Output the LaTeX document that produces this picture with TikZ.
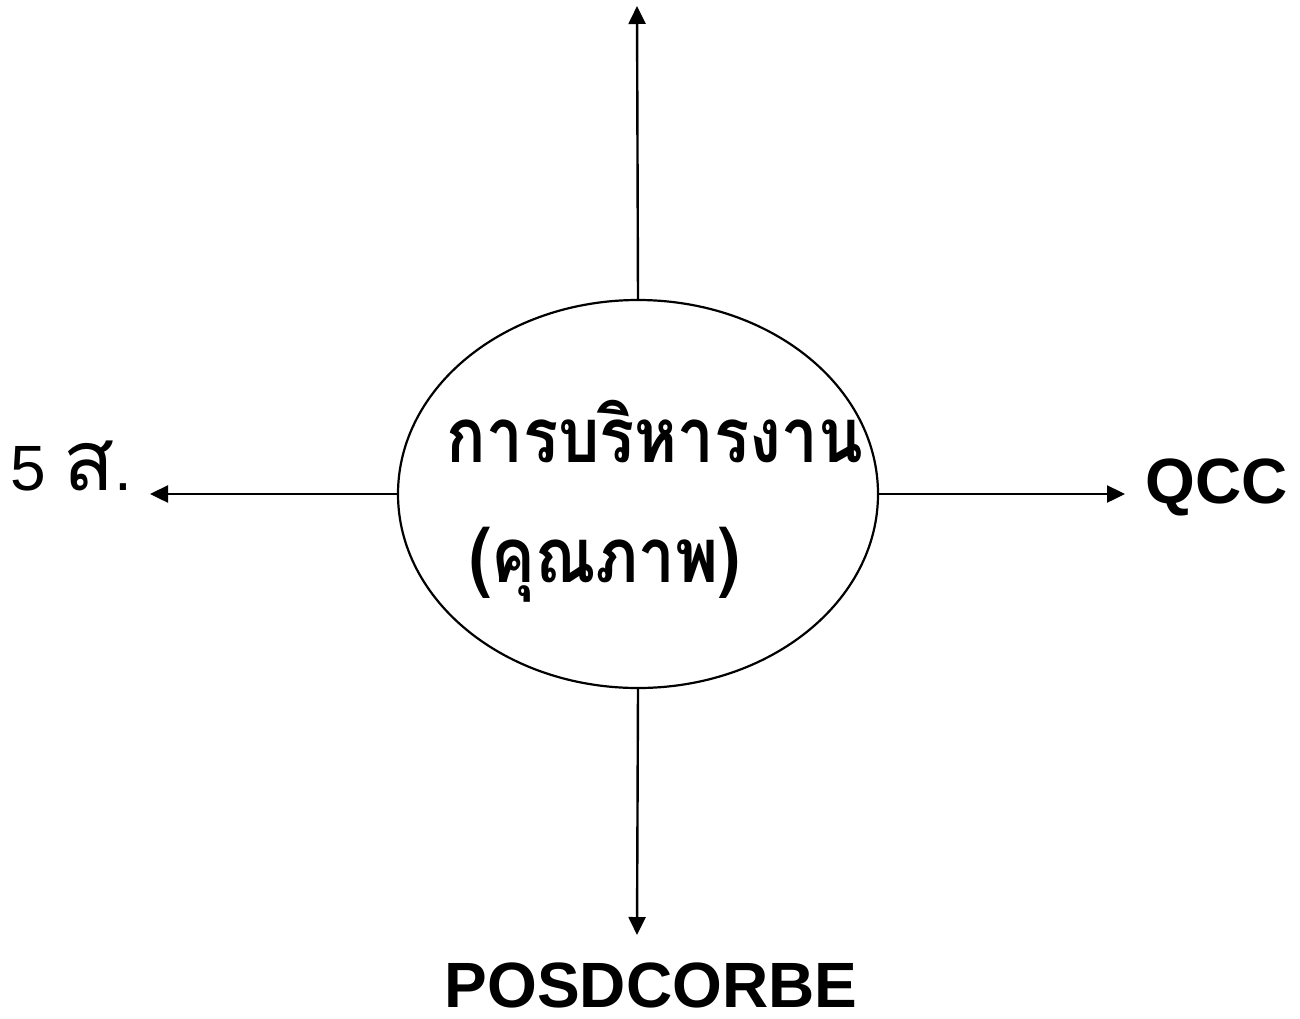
\documentclass[tikz,border=0pt]{standalone}
\usepackage{fontspec}
\setmainfont{Liberation Sans}
\newfontfamily\thaifont[Script=Thai]{Loma}
\usetikzlibrary{arrows.meta,shapes.geometric}
\tikzset{
  conn/.style={line width=2.4pt,-{Triangle[length=18pt,width=17pt]}},
  lbl/.style={inner sep=0pt,font=\fontsize{64}{70}\selectfont},
  thai/.style={inner sep=0pt,anchor=base,font=\thaifont\bfseries\fontsize{76}{86}\selectfont},
}
\begin{document}
\begin{tikzpicture}[x=1pt,y=-1pt]
\useasboundingbox[fill=white] (0,0) rectangle (1300,1018);
\node[ellipse,draw,line width=2.2pt,minimum width=480pt,minimum height=388pt,inner sep=0pt] (c) at (638,494) {};
\node[thai] (t1) at (655,462) {\scalebox{0.86}[1]{การบริหารงาน}};
\node[thai] (t2) at (605,582) {\scalebox{0.86}[1]{(คุณภาพ)}};
\coordinate (up) at (637,6);
\coordinate (lf) at (150,494);
\coordinate (rt) at (1125,494);
\coordinate (dn) at (637,935);
\draw[conn] (c.north) -- (up);
\draw[conn] (c.west) -- (lf);
\draw[conn] (c.east) -- (rt);
\draw[conn] (c.south) -- (dn);
\node[lbl,anchor=base west] (l5) at (10,490) {5 {\thaifont\fontsize{84}{90}\selectfont ส}.};
\node[lbl,anchor=base,font=\fontsize{64}{70}\selectfont\bfseries] (qcc) at (1217,503) {QCC};
\node[lbl,anchor=base,font=\fontsize{64}{70}\selectfont\bfseries] (pos) at (651,1007) {POSDCORBE};
\end{tikzpicture}
\end{document}
